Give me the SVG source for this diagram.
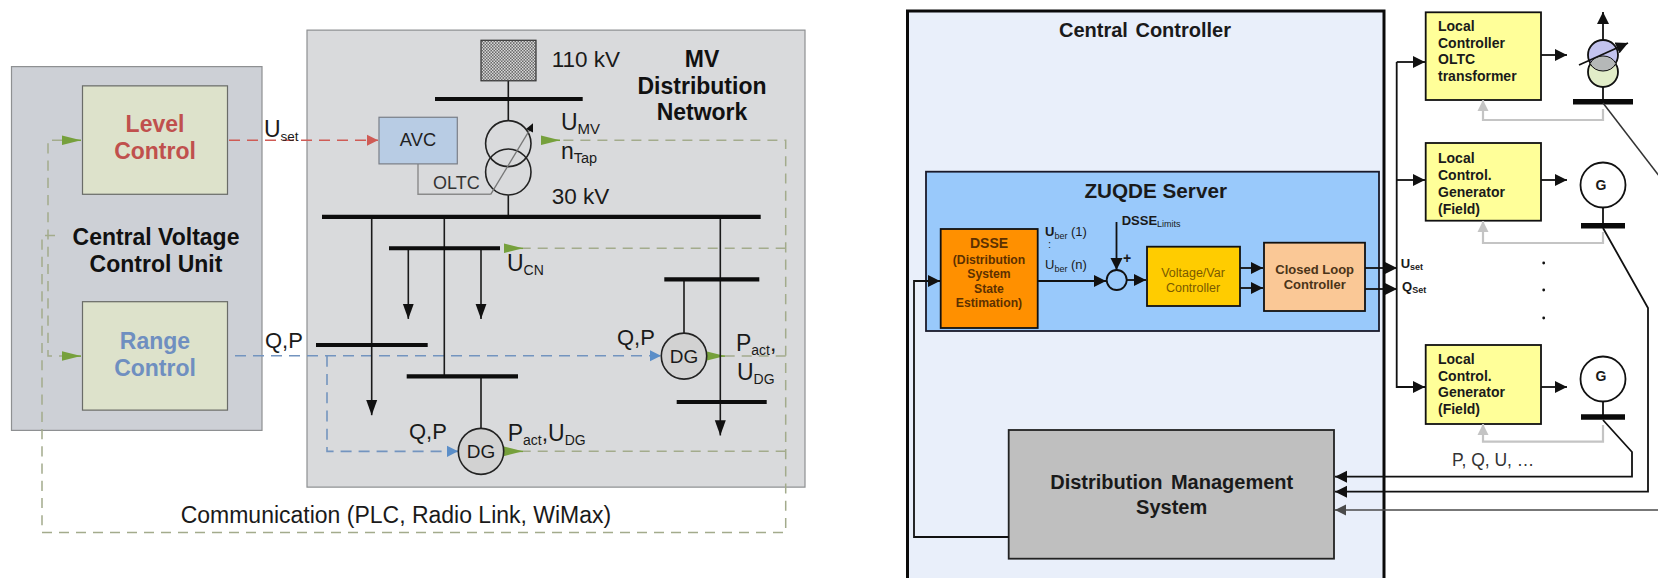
<svg xmlns="http://www.w3.org/2000/svg" width="1658" height="578" viewBox="0 0 1658 578">
<style>
text{font-family:"Liberation Sans",Arial,sans-serif;fill:#1a1a1a}
.b{font-weight:bold}
.m{text-anchor:middle}
.h{font-size:23px;font-weight:bold;fill:#111}
.lc{font-size:14px;font-weight:bold;fill:#1a1a1a}
.ds{font-size:12.2px;font-weight:bold;fill:#5c3000;text-anchor:middle}
.panel{fill:#d9dadc;stroke:#8e9092;stroke-width:1.2}
.ctl{fill:#dde2cb;stroke:#6a6c68;stroke-width:1.2}
.bus{stroke:#0d0d0d;stroke-width:4;fill:none}
.w{stroke:#1a1a1a;stroke-width:1.6;fill:none}
.gd{stroke:#a3ab8c;stroke-width:1.5;stroke-dasharray:10 7;fill:none}
.rd{stroke:#cf5b55;stroke-width:1.6;stroke-dasharray:11 7;fill:none}
.bd{stroke:#7394bf;stroke-width:1.6;stroke-dasharray:11 7;fill:none}
.k{stroke:#111;stroke-width:1.8;fill:none}
.bx{stroke:#111;stroke-width:1.8}
.lg{stroke:#c4c4c4;stroke-width:2.2;fill:none}
.ga{stroke:#76a03c;stroke-width:1.5;fill:none}
.dot{fill:#111}
</style>
<defs>
<pattern id="hatch" width="3" height="3" patternUnits="userSpaceOnUse"><rect width="3" height="3" fill="#d8d8d8"/><rect width="1.5" height="1.5" fill="#6a6a6a"/><rect x="1.5" y="1.5" width="1.5" height="1.5" fill="#6a6a6a"/></pattern>
<marker id="ag" markerUnits="userSpaceOnUse" markerWidth="20" markerHeight="10" refX="19" refY="5" orient="auto"><path d="M0,0.3L19,5L0,9.7Z" fill="#76a03c"/></marker>
<marker id="ar" markerUnits="userSpaceOnUse" markerWidth="12" markerHeight="12" refX="11" refY="6" orient="auto"><path d="M0,0.5L11,6L0,11.5Z" fill="#cf5b55"/></marker>
<marker id="ab" markerUnits="userSpaceOnUse" markerWidth="12" markerHeight="12" refX="11" refY="6" orient="auto"><path d="M0,0.5L11,6L0,11.5Z" fill="#5b8ec8"/></marker>
<marker id="ak" markerUnits="userSpaceOnUse" markerWidth="13" markerHeight="13" refX="12" refY="6.500" orient="auto"><path d="M0,0.5L12,6.5L0,12.5Z" fill="#111"/></marker>
<marker id="aq" markerUnits="userSpaceOnUse" markerWidth="16" markerHeight="12" refX="15" refY="6" orient="auto"><path d="M0,0.5L15,6L0,11.5Z" fill="#111"/></marker>
<marker id="ae" markerUnits="userSpaceOnUse" markerWidth="12" markerHeight="12" refX="11" refY="6" orient="auto"><path d="M0,0.5L11,6L0,11.5Z" fill="#4a4a4a"/></marker>
<marker id="al" markerUnits="userSpaceOnUse" markerWidth="12" markerHeight="12" refX="11" refY="6" orient="auto"><path d="M0,0.5L11,6L0,11.5Z" fill="#c4c4c4"/></marker>
</defs>

<g id="left-diagram" transform="translate(0,-0.27) scale(1,1.0133)">
<g id="central-voltage-unit"><rect class="panel" x="11.5" y="66" width="250.500" height="359" style="fill:#cdd0d6"/>
<text class="h m" x="156" y="242">Central Voltage</text><text class="h m" x="156" y="268.500">Control Unit</text></g>
<g id="mv-network"><rect class="panel" x="307" y="30" width="498" height="451"/>
<text class="h m" x="702" y="66">MV</text><text class="h m" x="702" y="93">Distribution</text><text class="h m" x="702" y="119">Network</text></g>
<g id="level-control"><rect class="ctl" x="82.5" y="85" width="145" height="107"/>
<text class="m b" x="155" y="130.500" font-size="23" style="fill:#c0504d">Level</text><text class="m b" x="155" y="157" font-size="23" style="fill:#c0504d">Control</text></g>
<g id="range-control"><rect class="ctl" x="82.5" y="298" width="145" height="107"/>
<text class="m b" x="155" y="345" font-size="23" style="fill:#6f8fc0">Range</text><text class="m b" x="155" y="371.500" font-size="23" style="fill:#6f8fc0">Control</text></g>

<g id="connectors-left">
<path class="gd" d="M62,138.700H48V351.700H62"/>
<path class="gd" d="M55,232.700H42V525.700H785.700V138.700H560"/>
<path class="gd" d="M785.700,245.300H523M785.700,351.700H725M785.700,445.700H523"/>
<path d="M229,138.700H378" class="rd" marker-end="url(#ar)"/>
<path d="M235,351.300H661" class="bd" marker-end="url(#ab)"/>
<path d="M327,351.300V445.700H458" class="bd" marker-end="url(#ab)"/>
<path d="M541,138.700H560" class="ga" marker-end="url(#ag)"/>
<path d="M504,245.300H523" class="ga" marker-end="url(#ag)"/>
<path d="M707,351.700H725" class="ga" marker-end="url(#ag)"/>
<path d="M504,445.700H523" class="ga" marker-end="url(#ag)"/>
<path d="M62,138.700H81" class="ga" marker-end="url(#ag)"/>
<path d="M62,351.700H81" class="ga" marker-end="url(#ag)"/>
<path class="w" d="M508.300,80V119M508.300,193V214M444.300,214V371.700M481,372V423M684,276V329"/>
<path d="M371.700,214V410" class="w" marker-end="url(#aq)"/>
<path d="M408.300,245V315" class="w" marker-end="url(#aq)"/>
<path d="M481,245V315" class="w" marker-end="url(#aq)"/>
<path d="M720.300,214V430" class="w" marker-end="url(#aq)"/>
<path class="bus" d="M435,98H582.700M322,214.300H760.700M389,245.300H500M316,340.700H427.700M406.700,371.700H518M664.300,276H759.300M676.700,397H766.700"/>
<path d="M418,162V192H490.700" fill="none" stroke="#8a8a8a" stroke-width="1.400"/>
</g>

<g id="grid-source"><rect x="481" y="40" width="55" height="40" fill="url(#hatch)" stroke="#333" stroke-width="1.200"/></g>
<g id="avc"><rect x="379" y="116" width="78.300" height="46" fill="#b8cce4" stroke="#7a7f88" stroke-width="1.200"/><text class="m" x="418" y="144.500" font-size="18.300" style="fill:#222">AVC</text></g>
<g id="transformer"><circle cx="508.300" cy="142" r="22.700" fill="none" stroke="#222" stroke-width="1.600"/><circle cx="508.300" cy="170" r="22.700" fill="none" stroke="#222" stroke-width="1.600"/>
<path d="M490.700,192L530,128" stroke="#777" stroke-width="1.300" fill="none"/><path d="M533,122L526,127.500L533,131Z" fill="#111"/></g>
<g id="dg1"><circle cx="481" cy="445.700" r="22.700" fill="#d2d2d2" stroke="#222" stroke-width="1.600"/><text class="m" x="481" y="452.500" font-size="19">DG</text></g>
<g id="dg2"><circle cx="684" cy="351.700" r="22.700" fill="#d2d2d2" stroke="#222" stroke-width="1.600"/><text class="m" x="684" y="358.500" font-size="19">DG</text></g>

<g id="labels-left">
<text x="264" y="135" font-size="23">U<tspan font-size="13.500" dy="4">set</tspan></text>
<text x="265" y="344" font-size="22">Q,P</text>
<text x="551.700" y="66" font-size="22.500">110 kV</text>
<text x="561" y="129" font-size="23">U<tspan font-size="15" dy="4">MV</tspan></text>
<text x="561" y="156.700" font-size="23">n<tspan font-size="14.500" dy="4">Tap</tspan></text>
<text x="433" y="186.700" font-size="18" style="fill:#333">OLTC</text>
<text x="551.700" y="202" font-size="22.500">30 kV</text>
<text x="507" y="268" font-size="23">U<tspan font-size="14" dy="4">CN</tspan></text>
<text x="617" y="341" font-size="22">Q,P</text>
<text x="736" y="346.700" font-size="23">P<tspan font-size="14" dy="4">act</tspan><tspan dy="-4">,</tspan></text>
<text x="737" y="375" font-size="23">U<tspan font-size="14" dy="4">DG</tspan></text>
<text x="409" y="434" font-size="22">Q,P</text>
<text x="507.700" y="435" font-size="23">P<tspan font-size="14" dy="4">act</tspan><tspan dy="-4">,U</tspan><tspan font-size="14" dy="4">DG</tspan></text>
<text x="180.700" y="516.700" font-size="23">Communication (PLC, Radio Link, WiMax)</text>
</g>
</g>

<g id="central-controller"><rect x="907.500" y="11" width="476.500" height="580" fill="#e9effa" stroke="#0a0a0a" stroke-width="3"/>
<text class="b m" x="1145" y="36.700" font-size="20" word-spacing="2">Central Controller</text></g>
<g id="zuqde-server"><rect x="926" y="171.700" width="453" height="159.300" fill="#99c9fb" stroke="#1a1a2a" stroke-width="1.800"/>
<text class="b m" x="1155.700" y="198" font-size="20.700">ZUQDE Server</text></g>
<g id="dsse"><rect class="bx" x="940.700" y="229" width="97" height="99" fill="#ff9000"/>
<text class="ds" x="989" y="248" style="font-size:14px">DSSE</text>
<text class="ds" x="989" y="263.500">(Distribution</text><text class="ds" x="989" y="278">System</text><text class="ds" x="989" y="292.500">State</text><text class="ds" x="989" y="306.700">Estimation)</text></g>
<g id="voltage-var"><rect class="bx" x="1147" y="246.700" width="93" height="59.300" fill="#ffcc00"/>
<text class="m" x="1193" y="277" font-size="12.500" style="fill:#7a5a00">Voltage/Var</text><text class="m" x="1193" y="291.700" font-size="12.500" style="fill:#7a5a00">Controller</text></g>
<g id="closed-loop"><rect class="bx" x="1264" y="242.700" width="101" height="68.300" fill="#fac896"/>
<text class="m b" x="1314.700" y="274" font-size="13" style="fill:#4a3418">Closed Loop</text><text class="m b" x="1314.700" y="289" font-size="13" style="fill:#4a3418">Controller</text></g>
<g id="summer"><circle cx="1116.700" cy="280" r="10" fill="#99c9fb" stroke="#111" stroke-width="1.800"/></g>
<g id="dms"><rect x="1008.700" y="430" width="325.300" height="128.700" fill="#bfbfbf" stroke="#222" stroke-width="1.800"/>
<text class="b m" x="1171.700" y="489" font-size="20" word-spacing="3">Distribution Management</text><text class="b m" x="1171.700" y="514" font-size="20">System</text></g>

<g id="local-oltc"><rect class="bx" x="1425.700" y="12.300" width="115.300" height="87.700" fill="#ffff99"/>
<text class="lc" x="1438" y="30.700">Local</text><text class="lc" x="1438" y="48">Controller</text><text class="lc" x="1438" y="64">OLTC</text><text class="lc" x="1438" y="81">transformer</text></g>
<g id="local-gen1"><rect class="bx" x="1425.700" y="143" width="115.300" height="77.700" fill="#ffff99"/>
<text class="lc" x="1438" y="162.700">Local</text><text class="lc" x="1438" y="180">Control.</text><text class="lc" x="1438" y="196.700">Generator</text><text class="lc" x="1438" y="214">(Field)</text></g>
<g id="local-gen2"><rect class="bx" x="1425.700" y="345" width="115.300" height="79" fill="#ffff99"/>
<text class="lc" x="1438" y="364">Local</text><text class="lc" x="1438" y="381">Control.</text><text class="lc" x="1438" y="397">Generator</text><text class="lc" x="1438" y="414">(Field)</text></g>
<g id="oltc-transformer"><circle cx="1603" cy="72" r="15" fill="#e2edc8" stroke="#111" stroke-width="1.800"/><circle cx="1603" cy="55" r="15" fill="#c3c3ee" stroke="#111" stroke-width="1.800"/>
<path d="M1590,63.500A15,15 0 0 0 1616,63.500A15,15 0 0 0 1590,63.500Z" fill="#b5b8b8" stroke="#111" stroke-width="1"/></g>
<g id="gen1"><circle cx="1603" cy="185" r="22.500" fill="#fff" stroke="#111" stroke-width="1.800"/><text class="b m" x="1601" y="190" font-size="14">G</text></g>
<g id="gen2"><circle cx="1603" cy="379" r="22.500" fill="#fff" stroke="#111" stroke-width="1.800"/><text class="b m" x="1601" y="381" font-size="14">G</text></g>

<g id="connectors-right">
<path class="k" d="M1008.700,537H914V281H940" marker-end="url(#ak)"/>
<path class="k" d="M1116.500,222V270" marker-end="url(#ak)"/>
<path class="k" d="M1038,281H1106" marker-end="url(#ak)"/>
<path class="k" d="M1127,280H1146" marker-end="url(#ak)"/>
<path class="k" d="M1240,268H1263" marker-end="url(#ak)"/>
<path class="k" d="M1240,288H1263" marker-end="url(#ak)"/>
<path class="k" d="M1365,268H1397" marker-end="url(#ak)"/>
<path class="k" d="M1365,289H1397" marker-end="url(#ak)"/>
<path class="k" d="M1396.700,62V387H1425" marker-end="url(#ak)"/>
<path d="M1396.700,62H1425" class="k" marker-end="url(#ak)"/>
<path d="M1396.700,180H1425" class="k" marker-end="url(#ak)"/>
<path d="M1541,55H1567" class="k" marker-end="url(#ak)"/>
<path d="M1541,180H1567" class="k" marker-end="url(#ak)"/>
<path d="M1541,387H1567" class="k" marker-end="url(#ak)"/>
<path d="M1603,40V12" class="k" marker-end="url(#ak)"/>
<path d="M1603,87V101M1603,207V225M1603,401V417" class="k"/>
<path d="M1579,65L1628,43" class="k" marker-end="url(#ak)"/>
<path d="M1573,101.700H1633M1581,225.700H1625M1581,417H1625" stroke="#0a0a0a" stroke-width="5.500" fill="none"/>
<path d="M1603,109V120H1483V100" class="lg" marker-end="url(#al)"/>
<path d="M1603,232V243H1483V221" class="lg" marker-end="url(#al)"/>
<path d="M1603,425V441.700H1483V424" class="lg" marker-end="url(#al)"/>
<path d="M1603,103L1660,177" stroke="#333" stroke-width="1.500" fill="none"/>
<path d="M1603,228L1648,308V491.700H1335" class="k" marker-end="url(#ak)"/>
<path d="M1603,420L1632,452V476.700H1335" class="k" marker-end="url(#ak)"/>
<path d="M1658,510H1335" stroke="#4a4a4a" stroke-width="1.600" fill="none" marker-end="url(#ae)"/>
</g>

<g id="labels-right">
<text x="1045" y="236" font-size="13"><tspan font-weight="bold">U</tspan><tspan font-size="9" dy="3">ber</tspan><tspan dy="-3"> (1)</tspan></text>
<text x="1048" y="248" font-size="11">:</text>
<text x="1045" y="269" font-size="13">U<tspan font-size="9" dy="3">ber</tspan><tspan dy="-3"> (n)</tspan></text>
<text class="b" x="1121.700" y="225" font-size="13">DSSE<tspan font-size="9" font-weight="normal" dy="2">Limits</tspan></text>
<text class="b" x="1123" y="263" font-size="14">+</text>
<text class="b" x="1400.700" y="268" font-size="13">U<tspan font-size="9" dy="2">set</tspan></text>
<text class="b" x="1402" y="291" font-size="13">Q<tspan font-size="9" dy="2">Set</tspan></text>
<circle class="dot" cx="1543.700" cy="263" r="1.400"/><circle class="dot" cx="1543.700" cy="290" r="1.400"/><circle class="dot" cx="1543.700" cy="318" r="1.400"/>
<text x="1452" y="465.700" font-size="17.500" style="fill:#333">P, Q, U, …</text>
</g>
</svg>
